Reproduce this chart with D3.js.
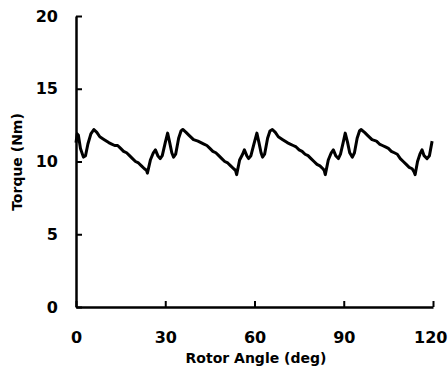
<!DOCTYPE html>
<html>
<head>
<meta charset="utf-8">
<script src="https://cdn.jsdelivr.net/npm/d3@7"></script>
<style>
  body { margin: 0; background: #fff; }
  svg { display: block; }
  .tick text { font-family: "DejaVu Sans", sans-serif; font-weight: bold; font-size: 16px; fill: #000; }
</style>
</head>
<body>
<div id="chart"></div>
<script>
// torque vs rotor angle
const angle = [
  0, 0.4, 0.8, 1.5, 2.5, 3.2, 4, 5, 6, 7, 8, 9.5, 11, 12, 13, 14, 15, 16, 17, 18, 19, 20, 21, 22, 23, 23.7, 24,
  25, 26, 26.7, 27.5, 28.3, 29, 30, 30.8, 31.5, 32.2, 32.8, 33.5, 34.5, 35.3, 35.9,
  37, 38, 39.5, 41, 42, 43, 44, 45, 46, 47, 48, 49, 50, 51, 52, 53, 53.6, 54,
  55, 56, 56.6, 57.4, 58, 58.8, 59.8, 60.8, 61.5, 62.2, 62.7, 63.4, 64.4, 65.2, 66,
  67, 68, 69.5, 71, 72, 73, 74, 75, 76, 77, 78, 79, 80, 81, 82, 83, 83.4, 83.8,
  84.8, 85.8, 86.5, 87.3, 88.2, 88.9, 89.8, 90.5, 91.3, 92, 92.9, 93.6, 94.5, 95.3, 95.8,
  97, 98, 99.5, 101, 102, 103, 104, 105, 106, 107, 108, 109, 110, 111, 112, 113, 113.6, 114,
  114.8, 115.6, 116.3, 117, 118, 118.8, 119.7
];
const torque = [
  11.3, 11.9, 11.8, 10.9, 10.3, 10.4, 11.2, 11.9, 12.2, 12.0, 11.7, 11.5, 11.3, 11.2, 11.1, 11.1, 10.9, 10.7, 10.6, 10.4, 10.2, 10.0, 9.9, 9.7, 9.5, 9.4, 9.2,
  10.1, 10.6, 10.8, 10.4, 10.2, 10.4, 11.3, 11.95, 11.3, 10.6, 10.3, 10.5, 11.6, 12.1, 12.2,
  12.0, 11.8, 11.5, 11.4, 11.3, 11.2, 11.1, 10.9, 10.7, 10.6, 10.4, 10.2, 10.0, 9.9, 9.7, 9.5, 9.4, 9.1,
  10.1, 10.5, 10.8, 10.4, 10.2, 10.4, 11.2, 11.95, 11.3, 10.6, 10.3, 10.5, 11.6, 12.1, 12.2,
  12.0, 11.7, 11.5, 11.3, 11.2, 11.1, 11.0, 10.8, 10.7, 10.5, 10.4, 10.2, 10.0, 9.8, 9.7, 9.5, 9.4, 9.1,
  10.1, 10.6, 10.8, 10.4, 10.2, 10.5, 11.3, 11.95, 11.3, 10.6, 10.3, 10.6, 11.6, 12.1, 12.2,
  12.0, 11.8, 11.5, 11.4, 11.2, 11.1, 11.0, 10.9, 10.7, 10.6, 10.5, 10.2, 10.0, 9.8, 9.6, 9.5, 9.3, 9.1,
  10.0, 10.5, 10.8, 10.4, 10.2, 10.4, 11.4
];
const xTicks = [0, 30, 60, 90, 120];
const yTicks = [0, 5, 10, 15, 20];

const width = 448;
const height = 366;
const margin = {left: 76, right: 15, top: 16, bottom: 59};

const data = angle.map((a, i) => ({angle: a, torque: torque[i]}));

const svg = d3.select("#chart")
  .append("svg")
  .attr("width", width)
  .attr("height", height);

const xScale = d3.scaleLinear()
  .domain([0, 120])
  .range([margin.left, width - margin.right]);

const yScale = d3.scaleLinear()
  .domain([0, 20])
  .range([height - margin.bottom, margin.top]);

// x axis, ticks pointing up into the plot
const xAxis = svg.append("g")
  .attr("transform", `translate(0,${height - margin.bottom})`)
  .call(d3.axisBottom(xScale)
    .tickValues(xTicks)
    .tickSizeInner(-6)
    .tickSizeOuter(0)
    .tickPadding(25));

// last label sits against the right edge
xAxis.selectAll(".tick text")
  .filter(d => d === 120)
  .attr("text-anchor", "end")
  .attr("dx", "14px");

// y axis, ticks pointing right
const yAxis = svg.append("g")
  .attr("transform", `translate(${margin.left},0)`)
  .call(d3.axisLeft(yScale)
    .tickValues(yTicks)
    .tickSizeInner(-6)
    .tickSizeOuter(0)
    .tickPadding(18));

svg.selectAll(".domain").attr("stroke", "#000").attr("stroke-width", 2.5);
svg.selectAll(".tick line").attr("stroke", "#000").attr("stroke-width", 2);

// the torque trace
svg.append("path")
  .datum(data)
  .attr("fill", "none")
  .attr("stroke", "#000")
  .attr("stroke-width", 3)
  .attr("stroke-linejoin", "round")
  .attr("d", d3.line()
    .x(d => xScale(d.angle))
    .y(d => yScale(d.torque)));

// axis titles
svg.append("text")
  .attr("x", 256)
  .attr("y", 363)
  .attr("text-anchor", "middle")
  .attr("font-family", "DejaVu Sans, sans-serif")
  .attr("font-weight", "bold")
  .attr("font-size", "14px")
  .text("Rotor Angle (deg)");

svg.append("text")
  .attr("transform", "translate(22,162) rotate(-90)")
  .attr("text-anchor", "middle")
  .attr("font-family", "DejaVu Sans, sans-serif")
  .attr("font-weight", "bold")
  .attr("font-size", "14px")
  .text("Torque (Nm)");
</script>
</body>
</html>
